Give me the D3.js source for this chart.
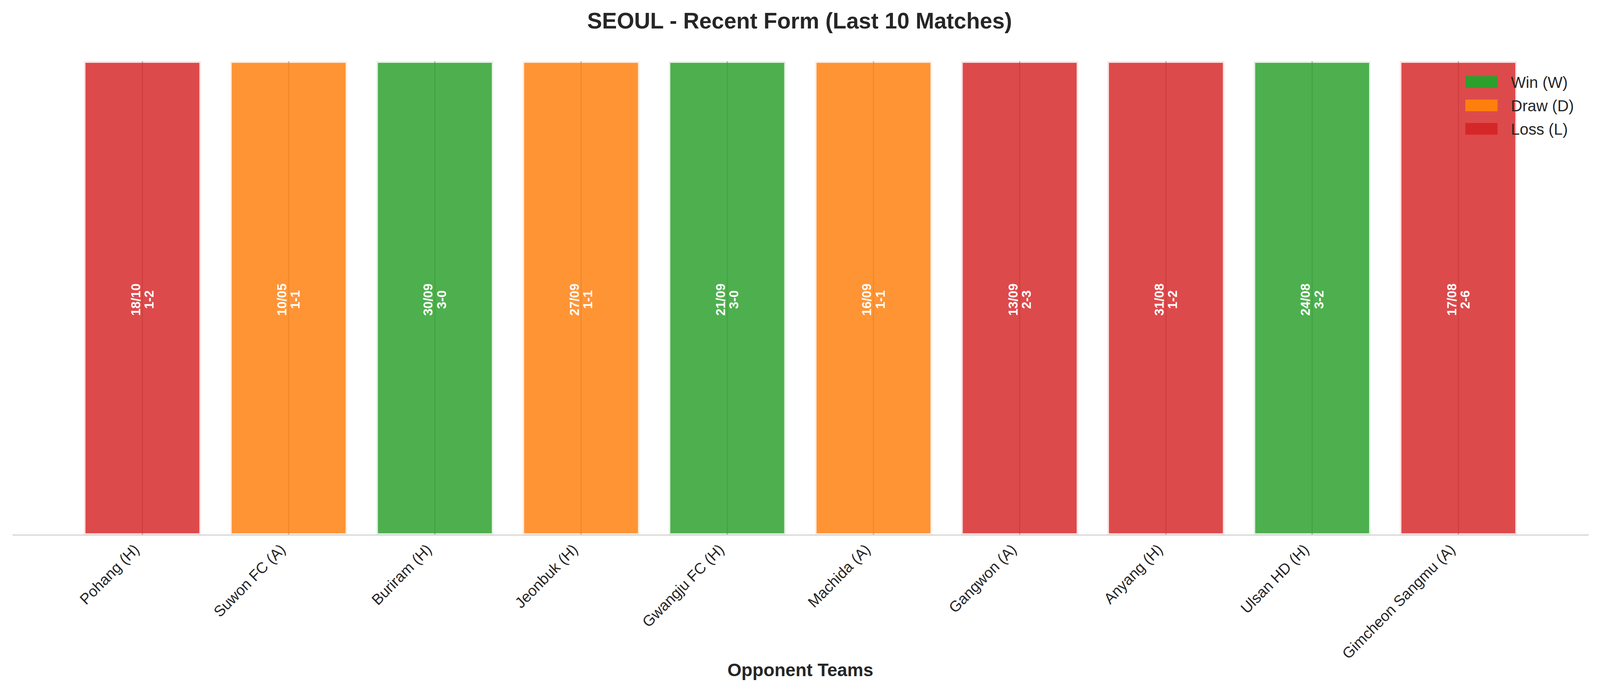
<!DOCTYPE html>
<html>
<head>
<meta charset="utf-8">
<script src="https://cdn.jsdelivr.net/npm/d3@7"></script>
<style>
  html, body { margin: 0; padding: 0; background: #fff; overflow: hidden; }
  svg { display: block; }
  text { font-family: "Liberation Sans", Arial, sans-serif; }
</style>
</head>
<body>
<div id="canvas"></div>
<script>
const opponents = ["Pohang (H)", "Suwon FC (A)", "Buriram (H)", "Jeonbuk (H)", "Gwangju FC (H)",
  "Machida (A)", "Gangwon (A)", "Anyang (H)", "Ulsan HD (H)", "Gimcheon Sangmu (A)"];
const dates = ["18/10", "10/05", "30/09", "27/09", "21/09", "16/09", "13/09", "31/08", "24/08", "17/08"];
const scores = ["1-2", "1-1", "3-0", "1-1", "3-0", "1-1", "2-3", "1-2", "3-2", "2-6"];
const results = ["L", "D", "W", "D", "W", "D", "L", "L", "W", "L"];
const heights = [1, 1, 1, 1, 1, 1, 1, 1, 1, 1];

const legendKeys = ["W", "D", "L"];
const legendLabels = ["Win (W)", "Draw (D)", "Loss (L)"];
const resultColors = ["#2ca02c", "#ff7f0e", "#d62728"];

const width = 4170;
const height = 1770;
const margin = { top: 157, left: 32, bottom: 400, right: 30 };
const iwidth = width - margin.left - margin.right;
const iheight = height - margin.top - margin.bottom;
const edge = 4;

const matches = opponents.map((d, i) => ({
  team: d, date: dates[i], score: scores[i], result: results[i], value: heights[i]
}));

const color = d3.scaleOrdinal().domain(legendKeys).range(resultColors);

// the window may be narrower than the chart, so scale the drawing to fit it
const svg = d3.select("#canvas").append("svg")
  .attr("viewBox", `0 0 ${width} ${height}`)
  .attr("preserveAspectRatio", "none")
  .style("width", "100vw")
  .style("height", "100vh")
  .style("background", "#fff");

const g = svg.append("g").attr("transform", `translate(${margin.left},${margin.top})`);

const x = d3.scaleBand()
  .domain(opponents)
  .range([0, iwidth])
  .paddingInner(0.2)
  .paddingOuter(0.49);

const y = d3.scaleLinear()
  .domain([0, 1])
  .range([iheight, 0]);

// vertical grid lines sit behind the bars
g.append("g")
  .selectAll("line")
  .data(opponents)
  .enter().append("line")
  .attr("x1", d => x(d) + x.bandwidth() / 2)
  .attr("x2", d => x(d) + x.bandwidth() / 2)
  .attr("y1", 0)
  .attr("y2", iheight)
  .attr("stroke", "#b4b4b4")
  .attr("stroke-width", 3);

g.append("g")
  .selectAll("rect")
  .data(matches)
  .enter().append("rect")
  .attr("class", "bar")
  .attr("x", d => x(d.team) + edge)
  .attr("y", d => y(d.value) + edge)
  .attr("width", x.bandwidth() - 2 * edge)
  .attr("height", d => iheight - y(d.value) - 2 * edge)
  .attr("fill", d => color(d.result))
  .attr("fill-opacity", 0.84);

// pale white edge around each bar
g.append("g")
  .selectAll("rect")
  .data(matches)
  .enter().append("rect")
  .attr("x", d => x(d.team) + edge / 2)
  .attr("y", d => y(d.value) + edge / 2)
  .attr("width", x.bandwidth() - edge)
  .attr("height", d => iheight - y(d.value) - edge)
  .attr("fill", "none")
  .attr("stroke", d => color(d.result))
  .attr("stroke-opacity", 0.13)
  .attr("stroke-width", edge);

// date / score inside each bar, rotated
const lbl = g.append("g")
  .selectAll("g")
  .data(matches)
  .enter().append("g")
  .attr("transform", d => `translate(${x(d.team) + x.bandwidth() / 2},${y(d.value / 2) + 4}) rotate(-90)`);

lbl.append("text")
  .attr("y", -17.5)
  .attr("text-anchor", "middle")
  .attr("dominant-baseline", "central")
  .attr("fill", "#fff")
  .attr("font-weight", "bold")
  .attr("font-size", 33)
  .text(d => d.date);

lbl.append("text")
  .attr("y", 17.5)
  .attr("text-anchor", "middle")
  .attr("dominant-baseline", "central")
  .attr("fill", "#fff")
  .attr("font-weight", "bold")
  .attr("font-size", 33)
  .text(d => d.score);

// x axis
const xAxis = g.append("g")
  .attr("transform", `translate(0,${iheight})`)
  .call(d3.axisBottom(x).tickSize(0).tickPadding(0));

xAxis.select(".domain")
  .attr("stroke", "#cccccc")
  .attr("stroke-width", 2.5);

xAxis.selectAll(".tick text")
  .attr("font-size", 39)
  .attr("fill", "#262626")
  .attr("text-anchor", "end")
  .attr("dy", 0)
  .attr("y", 0)
  .attr("transform", "translate(-6,40) rotate(-45)");

g.append("text")
  .attr("x", iwidth / 2)
  .attr("y", 1732 - margin.top)
  .attr("text-anchor", "middle")
  .attr("font-size", 47)
  .attr("font-weight", "bold")
  .attr("fill", "#262626")
  .text("Opponent Teams");

svg.append("text")
  .attr("x", 2084)
  .attr("y", 73)
  .attr("text-anchor", "middle")
  .attr("font-size", 58)
  .attr("font-weight", "bold")
  .attr("fill", "#262626")
  .text("SEOUL - Recent Form (Last 10 Matches)");

// legend
const legend = svg.append("g").attr("transform", "translate(3819,195)");
const item = legend.selectAll("g")
  .data(legendKeys)
  .enter().append("g")
  .attr("transform", (d, i) => `translate(0,${i * 60})`);

item.append("rect")
  .attr("width", 84)
  .attr("height", 30)
  .attr("fill", d => color(d));

item.append("text")
  .attr("x", 119)
  .attr("y", 30)
  .attr("font-size", 41)
  .attr("fill", "#262626")
  .text((d, i) => legendLabels[i]);
</script>
</body>
</html>
